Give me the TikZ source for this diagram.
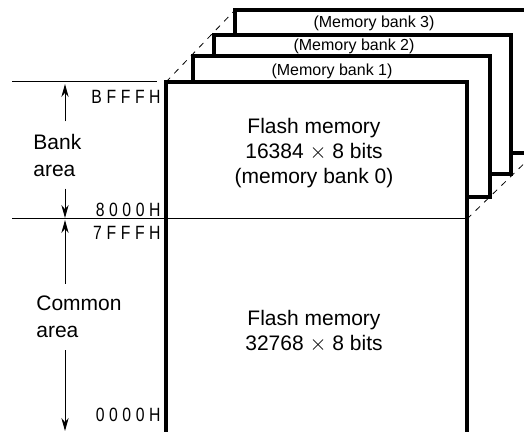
\documentclass[tikz,border=0pt]{standalone}
\usepackage{fontspec}
\setmainfont{Liberation Sans}
\newfontfamily\hexfont[LetterSpace=24,FakeStretch=0.82]{Liberation Sans}
\usetikzlibrary{arrows.meta}

\begin{document}
\begin{tikzpicture}[x=0.5pt,y=-0.5pt,
  bankbox/.style={draw,line width=1.6pt,fill=white},
  guide/.style={line width=0.4pt,dash pattern=on 3pt off 3pt},
  rule/.style={line width=0.5pt},
  dimarrow/.style={line width=0.5pt,-{Stealth[length=6.5pt,width=3.6pt]}},
  addr/.style={anchor=east,inner sep=0pt,font=\hexfont\fontsize{9.6}{11}\selectfont},
  banklabel/.style={inner sep=0pt,font=\fontsize{8}{9.6}\selectfont},
  body/.style={align=center,inner sep=0pt,font=\fontsize{10.5}{12.6}\selectfont},
  side/.style={align=left,anchor=west,inner xsep=0pt,inner ysep=6pt,font=\fontsize{10.5}{13.5}\selectfont}]
\clip (0,0) rectangle (524,432);

% dashed guides through the bank corners
\draw[guide] (166,82) -- (235,10);
\draw[guide] (467,82) -- (535,10);
\draw[guide] (467,219) -- (535,153);

% banks 3, 2, 1 behind bank 0
\draw[bankbox] (235,10) rectangle (535,153);
\draw[bankbox] (214,35) rectangle (511,174);
\draw[bankbox] (193,56) rectangle (490,197);
\draw[bankbox] (166,82) rectangle (467,445);
\draw[rule] (12,219) -- (467,219);
\draw[rule] (12,82) -- (157,82);

\node[banklabel] (bank3) at (374,23) {(Memory bank 3)};
\node[banklabel] (bank2) at (354,46) {(Memory bank 2)};
\node[banklabel] (bank1) at (332,71) {(Memory bank 1)};

\node[body] (flashbank) at (314,153) {Flash memory\\16384 $\times$ 8 bits\\(memory bank 0)};
\node[body] (flashcommon) at (314,331) {Flash memory\\32768 $\times$ 8 bits};

% addresses
\node[addr] (bfff) at (161,97) {BFFFH};
\node[addr] (a8000) at (161,210) {8000H};
\node[addr] (a7fff) at (161,233) {7FFFH};
\node[addr] (a0000) at (161,415) {0000H};

% area marks
\coordinate (topmark) at (65,84);
\coordinate (midup) at (65,218);
\coordinate (middown) at (65,220);
\coordinate (botmark) at (65,431);
\node[side] (bankarea) at (33,155) {Bank\\area};
\node[side] (commonarea) at (36,317) {Common\\area};
\draw[dimarrow] (bankarea.north -| topmark) -- (topmark);
\draw[dimarrow] (bankarea.south -| midup) -- (midup);
\draw[dimarrow] (commonarea.north -| middown) -- (middown);
\draw[dimarrow] (commonarea.south -| botmark) -- (botmark);
\end{tikzpicture}
\end{document}
